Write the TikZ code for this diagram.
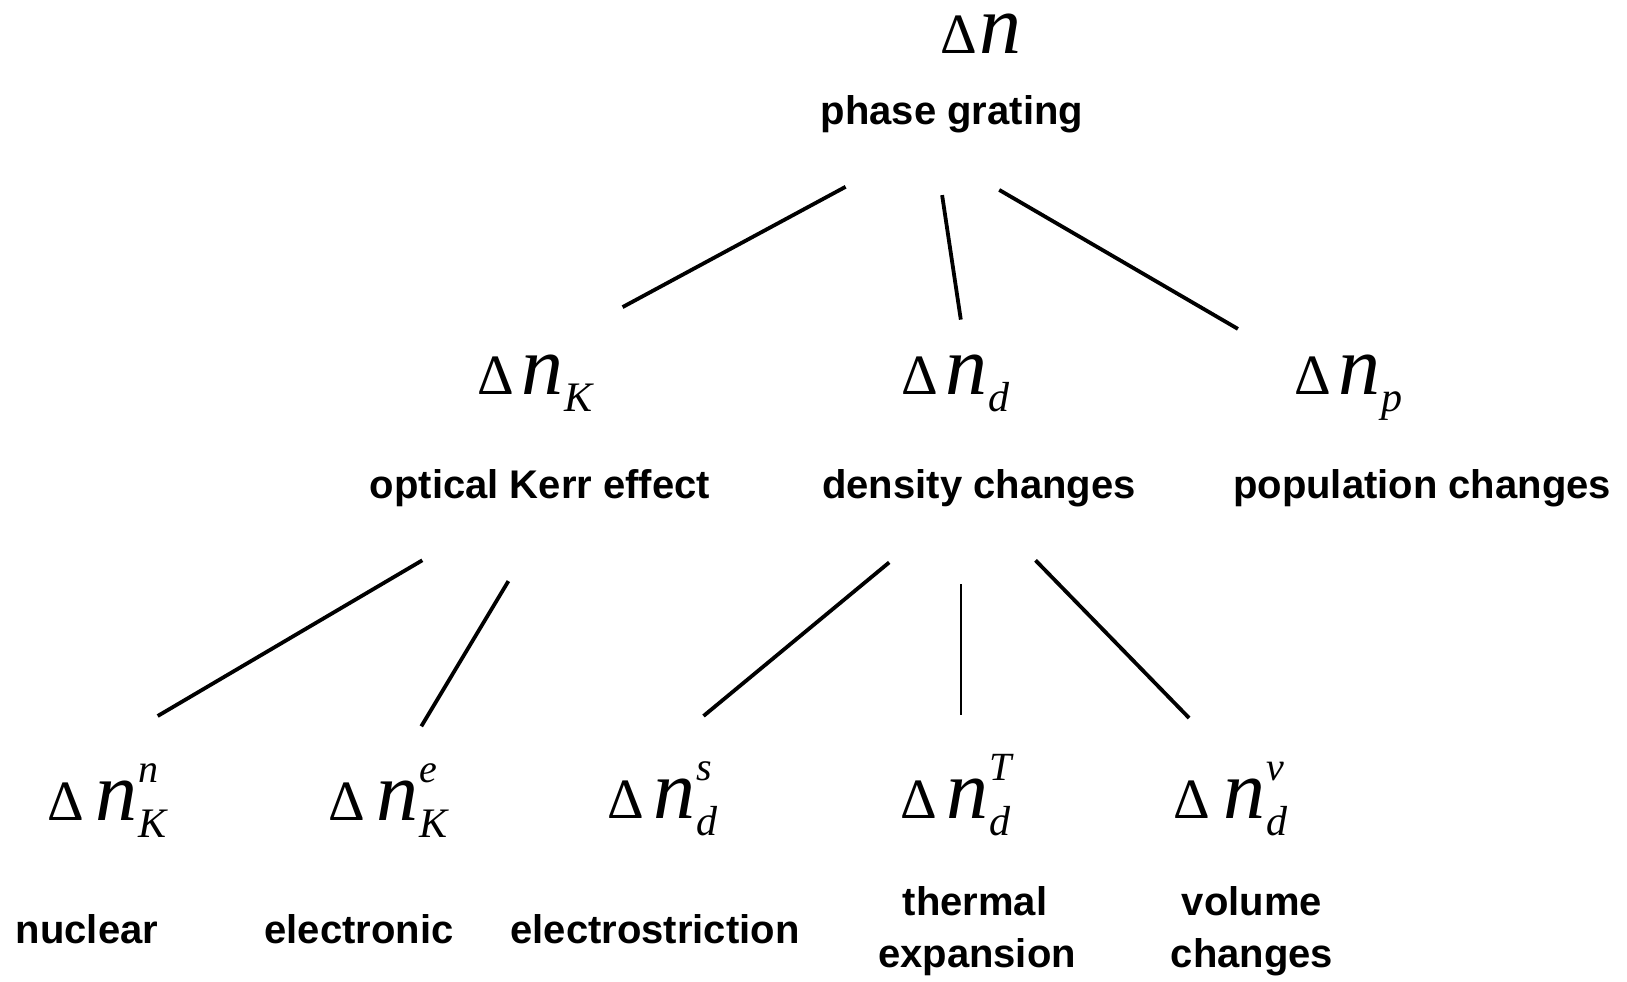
\documentclass[tikz,border=0pt]{standalone}
\usepackage{fontspec}
\setmainfont{Liberation Sans}
\newfontfamily\mfont{Liberation Serif}
\newcommand\DN[3]{\mbox{{\mfont\fontsize{57}{57}\selectfont Δ}\kern#1pt\smash{\mfont\itshape\fontsize{84}{84}\selectfont n}\kern1pt\rlap{\smash{\raisebox{38pt}{\mfont\itshape\fontsize{40}{40}\selectfont #2}}}\raisebox{-17pt}{\mfont\itshape\fontsize{42}{42}\selectfont #3}}}
\tikzset{
  lab/.style={anchor=base,inner sep=0pt,font=\bfseries\fontsize{40}{40}\selectfont},
  mth/.style={anchor=base west,inner sep=0pt},
  conn/.style={line width=3.8pt},
  thin conn/.style={line width=2.3pt}
}
\begin{document}
\begin{tikzpicture}[x=1pt,y=-1pt]
\useasboundingbox[fill=white] (0,0) rectangle (1627,982);
% top
\node[mth] (dn) at (940,53) {\DN{3}{}{}};
\node[lab] (pg) at (952,124) {phase grating};
% middle
\node[mth] (dnK) at (477,394) {\DN{8}{}{K}};
\node[mth] (dnd) at (901,394) {\DN{8}{}{d}};
\node[mth] (dnp) at (1294,394) {\DN{8}{}{p}};
\node[lab] (okerr) at (540,498) {optical Kerr effect};
\node[lab] (dens) at (979,498) {density changes};
\node[lab] (pop) at (1422,498) {population changes};
% bottom
\node[mth] (dnKn) at (47,820) {\DN{12}{n}{K}};
\node[mth] (dnKe) at (328,820) {\DN{12}{e}{K}};
\node[mth] (dnds) at (607,818) {\DN{10}{s}{d}};
\node[mth] (dndT) at (900,818) {\DN{10}{T}{d}};
\node[mth] (dndv) at (1173,818) {\DN{14}{v}{d}};
\node[lab] (nuc) at (87,943) {nuclear};
\node[lab] (elec) at (359,943) {electronic};
\node[lab] (estr) at (655,943) {electrostriction};
\node[lab] (therm) at (975,915) {thermal};
\node[lab] (expa) at (977,967) {expansion};
\node[lab] (vol) at (1252,915) {volume};
\node[lab] (chg) at (1252,967) {changes};
% connector end points
\coordinate (pg-l) at (845.6,186.8);
\coordinate (pg-m) at (942.1,195.1);
\coordinate (pg-r) at (999.2,189.9);
\coordinate (K-t) at (622.6,307.1);
\coordinate (d-t) at (960.8,319.6);
\coordinate (p-t) at (1237.9,328.9);
\coordinate (ok-l) at (422.3,560.3);
\coordinate (ok-r) at (508.4,581.1);
\coordinate (dc-l) at (889.2,562.4);
\coordinate (dc-m) at (960.8,584);
\coordinate (dc-r) at (1035.5,560.3);
\coordinate (Kn-t) at (157.7,716);
\coordinate (Ke-t) at (421.3,726.3);
\coordinate (ds-t) at (703.5,716);
\coordinate (dT-t) at (960.8,715);
\coordinate (dv-t) at (1189.1,718);
\draw[conn] (pg-l) -- (K-t);
\draw[conn] (pg-m) -- (d-t);
\draw[conn] (pg-r) -- (p-t);
\draw[conn] (ok-l) -- (Kn-t);
\draw[conn] (ok-r) -- (Ke-t);
\draw[conn] (dc-l) -- (ds-t);
\draw[thin conn] (dc-m) -- (dT-t);
\draw[conn] (dc-r) -- (dv-t);
\end{tikzpicture}
\end{document}
